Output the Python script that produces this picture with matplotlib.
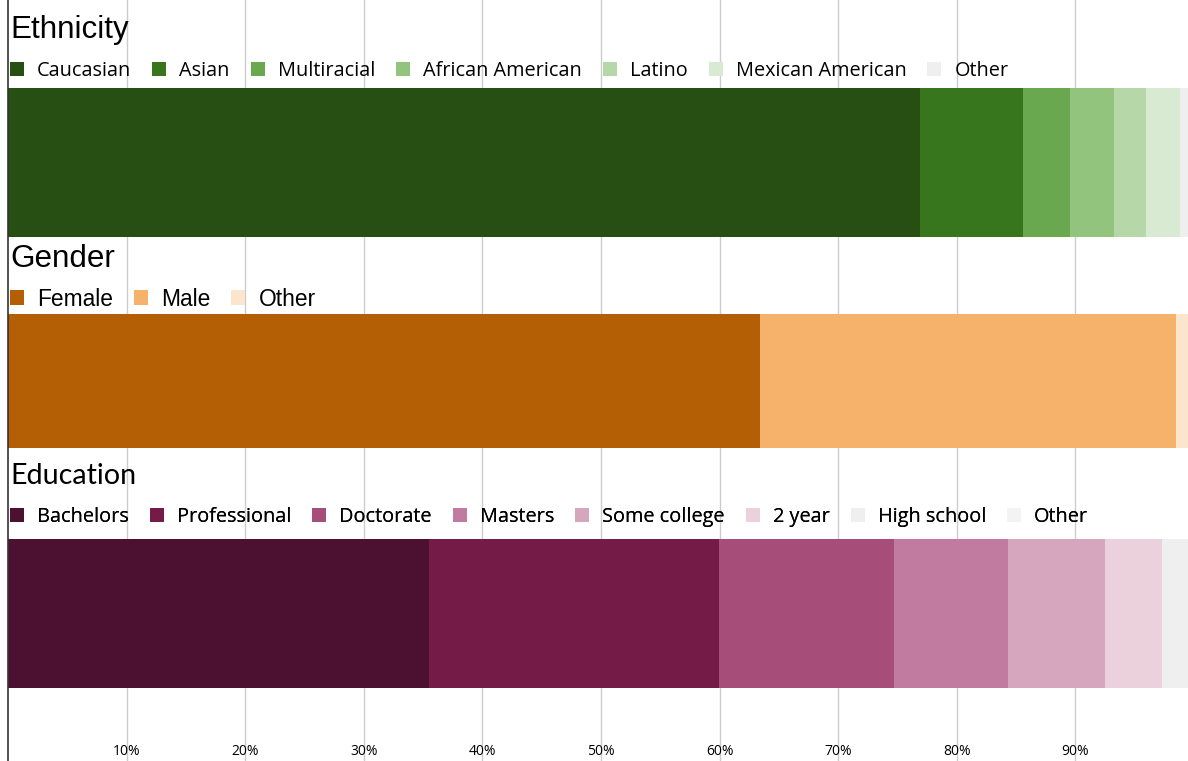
import matplotlib.pyplot as plt
from matplotlib.patches import Patch

# survey breakdowns, percent of respondents
eth_labels = ['Caucasian', 'Asian', 'Multiracial', 'African American', 'Latino', 'Mexican American', 'Other']
eth_values = [76.9, 8.65, 4.0, 3.7, 2.7, 2.85, 1.2]
eth_colors = ['#274e13', '#38761d', '#6aa84f', '#93c47d', '#b6d7a8', '#d9ead3', '#efefef']

gen_labels = ['Female', 'Male', 'Other']
gen_values = [63.4, 35.1, 1.5]
gen_colors = ['#b45f06', '#f6b26b', '#fce5cd']

edu_labels = ['Bachelors', 'Professional', 'Doctorate', 'Masters', 'Some college', '2 year', 'High school', 'Other']
edu_values = [35.5, 24.45, 14.75, 9.65, 8.15, 4.8, 2.2, 0.5]
edu_colors = ['#4c1130', '#741b47', '#a64d79', '#c27ba0', '#d5a6bd', '#ead1dc', '#efefef', '#f3f3f3']

xticks = [10, 20, 30, 40, 50, 60, 70, 80, 90]

W, H = 1188, 761
fig = plt.figure(figsize=(W / 100, H / 100), dpi=100)
ax = fig.add_axes([8 / W, 0, 1186 / W, 1])
ax.set_xlim(0, 100)
ax.set_ylim(H, 0)

# each block: title, data, fonts and its vertical layout (pixels from top)
groups = [
    dict(title='Ethnicity', labels=eth_labels, values=eth_values, colors=eth_colors,
         tfont='Liberation Sans', tsize=22.6, lfont='Open Sans', lsize=14.35,
         ty=30, ly=71, yc=162.5, hgt=149),
    dict(title='Gender', labels=gen_labels, values=gen_values, colors=gen_colors,
         tfont='Liberation Sans', tsize=22.6, lfont='Liberation Sans', lsize=16.4,
         ty=259, ly=299, yc=381, hgt=134),
    dict(title='Education', labels=edu_labels, values=edu_values, colors=edu_colors,
         tfont='Lato', tsize=20.6, lfont='Open Sans', lsize=14.3,
         ty=476, ly=517, yc=613.5, hgt=149),
]

for g in groups:
    left = 0
    for val, col in zip(g['values'], g['colors']):
        ax.barh(g['yc'], val, left=left, height=g['hgt'], color=col, linewidth=0, zorder=2)
        left += val
    ax.text(0.2, g['ty'], g['title'], fontsize=g['tsize'], family=g['tfont'],
            va='center', ha='left', zorder=3)
    em = g['lsize'] * 100 / 72  # legend font em in pixels
    handles = [Patch(facecolor=c, edgecolor='none') for c in g['colors']]
    leg = ax.legend(handles, g['labels'], loc='center left',
                    bbox_to_anchor=(10 / W, 1 - g['ly'] / H), bbox_transform=fig.transFigure,
                    ncol=len(g['labels']), frameon=False,
                    prop={'family': g['lfont'], 'size': g['lsize']},
                    handlelength=14 / em, handleheight=14 / em,
                    handletextpad=13 / em, columnspacing=21 / em,
                    borderpad=0, borderaxespad=0)
    ax.add_artist(leg)

ax.set_xticks(xticks)
ax.set_xticklabels([f'{t}%' for t in xticks], family='Open Sans', fontsize=10)
ax.tick_params(axis='x', length=0, pad=-12)
ax.set_yticks([])
ax.xaxis.grid(True, color='#cccccc', linewidth=1)
ax.set_axisbelow(True)
for s in ['top', 'right', 'bottom']:
    ax.spines[s].set_visible(False)
ax.spines['left'].set_color('#333333')
ax.spines['left'].set_linewidth(1.2)

fig.savefig('out.png', dpi=100)
